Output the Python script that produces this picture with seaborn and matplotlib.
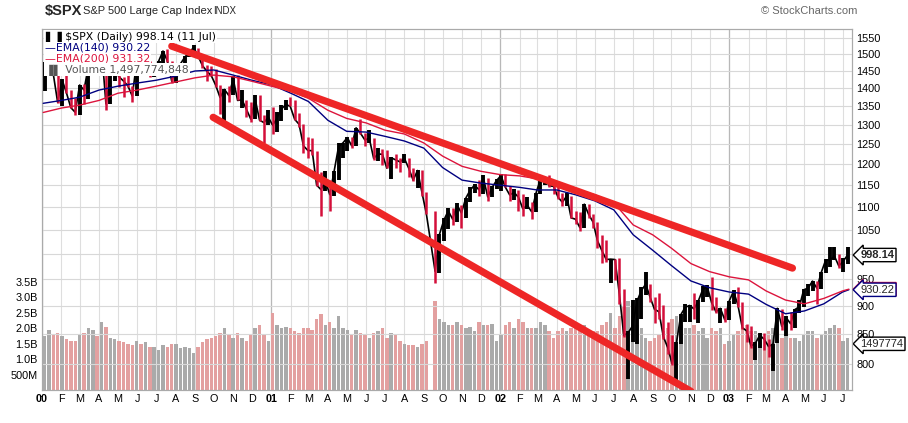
import numpy as np
import pandas as pd
import matplotlib
matplotlib.use("Agg")
import matplotlib.pyplot as plt
import matplotlib.ticker as mticker
import seaborn as sns

sns.set_style("white")
plt.rcParams['font.family'] = ['DejaVu Sans']

# ---------------- data (weekly) ----------------
close_2000 = [1441.5,1465.2,1441.4,1360.2, 1424.4,1387.1,1346.1,1333.4, 1409.2,1395.1,1464.5,1527.5,1498.6,
              1516.4,1356.6,1434.5,1452.4, 1432.6,1420.9,1407.0,1378.0, 1477.3,1457.0,1464.5,1441.5,1454.6,
              1478.9,1510.0,1480.2,1419.9, 1462.9,1471.8,1491.7,1506.5, 1520.8,1494.5,1465.8,1449.1,1436.5,
              1409.0,1374.2,1396.9,1379.6, 1426.7,1366.0,1367.7,1341.8, 1315.2,1369.9,1312.2,1305.9,1320.3]
high_2000 = [1478,1473,1466,1442, 1428,1441,1395,1372, 1410,1413,1465,1553,1528,
             1527,1518,1435,1482, 1481,1433,1467,1407, 1478,1478,1480,1480,1457,
             1481,1511,1517,1481, 1463,1475,1496,1508, 1530,1520,1496,1467,1464,
             1455,1409,1398,1406, 1434,1439,1396,1367, 1362,1380,1380,1325,1340]
low_2000 = [1392,1438,1438,1360, 1350,1387,1346,1325, 1325,1356,1370,1454,1490,
            1486,1339,1356,1420, 1405,1375,1404,1362, 1378,1452,1445,1432,1433,
            1438,1469,1476,1416, 1414,1450,1470,1491, 1502,1490,1460,1421,1434,
            1404,1329,1306,1361, 1380,1366,1346,1322, 1308,1315,1310,1254,1300]

close_2001 = [1298.4,1318.6,1342.5,1355.0, 1349.5,1314.8,1301.5,1245.9, 1234.2,1233.4,1150.5,1139.8,1160.3,
              1128.4,1183.5,1243.0,1253.1, 1266.6,1245.7,1292.0,1277.9, 1260.7,1265.0,1214.4,1225.4,1224.4,
              1190.6,1215.7,1210.9,1205.8, 1214.4,1190.2,1162.0,1184.9,1133.6, 1085.8,965.8,1040.9,
              1071.4,1091.7,1073.5,1104.6, 1087.2,1120.3,1138.7,1150.3,1139.5, 1167.1,1123.1,1144.9,1161.0]
high_2001 = [1347,1333,1354,1367, 1376,1367,1332,1302, 1269,1265,1233,1182,1183,
             1162,1184,1253,1254, 1268,1268,1292,1316, 1278,1287,1265,1240,1237,
             1236,1219,1225,1215, 1226,1215,1192,1185,1185, 1135,1092,1041,
             1075,1097,1099,1110, 1104,1121,1146,1152,1163, 1173,1168,1148,1164]
low_2001 = [1276,1280,1309,1340, 1350,1313,1295,1228, 1216,1224,1148,1081,1136,
            1091,1126,1163,1216, 1233,1239,1245,1275, 1246,1254,1211,1208,1198,
            1190,1165,1192,1182, 1204,1169,1160,1144,1126, 1085,944,962,
            1026,1053,1061,1067, 1054,1075,1111,1133,1125, 1130,1114,1124,1141]

close_2002 = [1172.5,1145.6,1127.6,1133.3, 1122.2,1096.2,1104.2,1089.8, 1131.8,1164.3,1166.2,1148.7,1147.4,
              1122.7,1111.0,1125.2,1076.3, 1073.4,1055.0,1106.6,1083.8,1067.1, 1027.5,1007.3,989.1,989.8,
              989.0,921.4,847.8,852.8, 864.2,908.6,928.8,940.9,916.1, 893.9,889.8,846.0,827.4,
              800.6,835.3,884.4,897.7, 901.0,894.7,909.8,930.6,936.3, 906.6,889.5,895.8,875.4]
high_2002 = [1176,1176,1148,1142, 1139,1130,1124,1111, 1132,1173,1169,1174,1154,
             1157,1132,1131,1125, 1092,1089,1107,1107,1085, 1067,1039,1030,991,
             991,993,932,856, 911,915,935,965,942, 917,925,902,871,
             849,836,885,904, 901,925,911,937,940, 954,916,897,896]
low_2002 = [1136,1145,1114,1117, 1091,1081,1096,1074, 1089,1130,1151,1146,1129,
            1119,1102,1102,1076, 1063,1049,1055,1077,1055, 1012,982,985,944,
            948,904,845,776, 837,833,876,921,908, 870,877,841,817,
            798,769,834,872, 871,876,869,908,916, 893,887,870,871]

close_2003 = [908.6,927.6,901.8,861.4,855.7, 829.7,834.9,848.2,841.2, 828.9,833.3,895.8,863.5,
              878.9,868.3,893.6,898.8, 930.1,933.4,946.7,933.2,963.6, 987.8,988.6,995.7,976.2,
              985.7,998.14]
high_2003 = [910,930,935,907,868, 864,837,852,852, 842,834,896,895,
             882,889,894,912, 931,941,947,947,965, 991,1015,1015,1000, 993,1015]
low_2003 = [874,904,899,859,837, 826,806,827,823, 812,789,835,857,
            847,858,861,888, 898,918,927,904,931, 962,975,988,972, 965,980]

# weekly volume (typical daily bar height), billions
vol_2000 = [1.75,1.95,1.8,1.85, 1.75,1.65,1.6,1.6, 1.8,1.85,2.0,1.95,1.75, 2.2,2.05,1.7,1.65,
            1.6,1.55,1.5,1.45, 1.6,1.5,1.55,1.4,1.4, 1.3,1.45,1.4,1.5, 1.5,1.35,1.4,1.35,
            1.2,1.4,1.55,1.65,1.7, 1.75,1.85,2.0,1.8, 1.7,1.85,1.7,1.6, 1.8,2.0,2.1,1.8,1.6]
vol_2001 = [2.5,2.1,2.0,2.05, 2.0,1.9,1.85,2.0, 2.0,1.95,2.3,2.45,2.1, 2.2,2.0,2.4,2.0,
            1.95,1.8,1.95,1.85, 1.8,1.7,1.85,1.9,2.0, 1.7,1.85,1.8,1.6, 1.5,1.45,1.45,1.4,1.5,
            1.6,2.9,2.3, 2.2,2.1,2.1,2.2, 2.1,2.0,2.05,1.9,2.2, 2.1,2.1,2.15,1.6]
vol_2002 = [1.8,2.1,2.2,2.0, 2.3,2.2,2.0,2.0, 2.0,2.2,2.1,1.9,1.7, 1.9,2.0,1.9,2.0,
            2.0,2.0,2.1,1.8,1.9, 1.9,2.1,2.2,2.5, 2.0,2.4,2.7,2.9, 2.4,2.1,2.0,1.7,1.6,
            1.7,1.8,1.9,2.0, 2.3,2.4,2.1,2.0, 2.0,2.1,1.9,2.0,1.7, 2.0,1.9,2.0,1.5]
vol_2003 = [1.6,1.8,1.9,2.0,2.1, 1.9,1.9,1.7,1.7, 1.9,2.0,2.1,1.7, 1.8,1.7,1.7,1.6,
            1.8,1.9,1.9,1.7,1.8, 1.9,2.0,2.1,2.0, 1.6,1.7]

# EMA values read at month starts (plus the last day)
ema_dates = list(pd.date_range("2000-01-01", "2003-07-01", freq="MS")) + [pd.Timestamp("2003-07-11")]
ema_dates[0] = pd.Timestamp("2000-01-03")
ema140 = [1358,1366,1375,1395,1406,1415,1423,1435,1450,1453,1438,1423,
          1410,1386,1363,1312,1283,1281,1270,1258,1240,1192,1162,1155,
          1150,1145,1139,1139,1128,1114,1094,1040,1008,977,947,934,
          926,922,903,886,891,904,926,930.22]
ema200 = [1333,1345,1353,1366,1386,1395,1406,1418,1430,1438,1433,1420,
          1406,1392,1372,1339,1317,1305,1286,1276,1253,1220,1195,1183,
          1175,1172,1165,1155,1139,1128,1110,1061,1040,1012,981,965,
          955,949,928,911,904,914,928,931.32]

# hand-drawn trend lines (date, price)
trend_upper_dates = ["2000-07-26", "2003-04-12"]
trend_upper_prices = [1525, 972]
trend_lower_dates = ["2000-09-30", "2002-11-01"]
trend_lower_prices = [1320, 757]

price_ticks = [800, 850, 900, 950, 1000, 1050, 1100, 1150, 1200, 1250, 1300, 1350, 1400, 1450, 1500, 1550]
vol_ticks = [0.5e9, 1.0e9, 1.5e9, 2.0e9, 2.5e9, 3.0e9, 3.5e9]
vol_tick_labels = ["500M", "1.0B", "1.5B", "2.0B", "2.5B", "3.0B", "3.5B"]

# ---------------- assemble ----------------
weeks = pd.date_range("2000-01-07", "2003-07-11", freq="W-FRI")
weeks = weeks[weeks != pd.Timestamp("2001-09-14")]
df = pd.DataFrame({
    "date": weeks - pd.Timedelta(days=2),
    "close": close_2000 + close_2001 + close_2002 + close_2003,
    "high": high_2000 + high_2001 + high_2002 + high_2003,
    "low": low_2000 + low_2001 + low_2002 + low_2003,
    "vol": np.array(vol_2000 + vol_2001 + vol_2002 + vol_2003) * 1e9,
})
df["down"] = df["close"].diff().fillna(1) < 0
ema = pd.DataFrame({"date": ema_dates, "ema140": ema140, "ema200": ema200})

RED = "#d40f3a"
fig = plt.figure(figsize=(9.08, 4.23), dpi=100)
axv = fig.add_axes([42/908, 33/423, 810/908, 361/423])
axp = axv.twinx()
axp.patch.set_visible(False)

# volume
vcol = np.where(df["down"], "#e3a0a0", "#aaaaaa")
axv.bar(df["date"], df["vol"], width=5.5, color=vcol, linewidth=0, zorder=2)
axv.set_ylim(0, 11.7e9)
axv.set_yticks(vol_ticks)
axv.set_yticklabels(vol_tick_labels)
axv.yaxis.tick_left()

# x axis
xmin, xmax = pd.Timestamp("2000-01-01"), pd.Timestamp("2003-07-16")
axv.set_xlim(xmin, xmax)
month_starts = pd.date_range("2000-01-01", "2003-07-01", freq="MS")
labels = [("%02d" % (d.year % 100)) if d.month == 1 else d.strftime("%b")[0] for d in month_starts]
axv.set_xticks(month_starts)
axv.set_xticklabels(labels)
for d, t in zip(month_starts, axv.get_xticklabels()):
    if d.month == 1:
        t.set_fontweight("bold")
axv.grid(axis="x", color="#dedede", lw=0.8, zorder=0)
axv.set_axisbelow(True)
for d in month_starts[month_starts.month == 1]:
    axv.axvline(d, color="#b8b8b8", lw=0.9, zorder=1)

# price
axp.set_yscale("log")
axp.set_ylim(759, 1579)
axp.yaxis.set_minor_locator(mticker.NullLocator())
axp.set_yticks(price_ticks)
axp.set_yticklabels(["" if p == 1000 else str(p) for p in price_ticks])
axp.grid(axis="y", color="#d8d8d8", lw=0.8)

up = df[~df["down"]]
dn = df[df["down"]]
sns.lineplot(data=df, x="date", y="close", ax=axp, color="black", lw=1.2, zorder=3)
axp.vlines(up["date"], up["low"], up["high"], colors="black", lw=2.8, zorder=3)
axp.vlines(dn["date"], dn["low"], dn["high"], colors=RED, lw=1.8, zorder=3)
sns.lineplot(data=ema, x="date", y="ema140", ax=axp, color="#000080", lw=1.0, zorder=4)
sns.lineplot(data=ema, x="date", y="ema200", ax=axp, color="#dc143c", lw=1.0, zorder=4)
axp.plot(pd.to_datetime(trend_upper_dates), trend_upper_prices, color="#ee2626", lw=5.2,
         solid_capstyle="round", zorder=5)
axp.plot(pd.to_datetime(trend_lower_dates), trend_lower_prices, color="#ee2626", lw=5.2,
         solid_capstyle="round", zorder=5)
axp.set_xlim(xmin, xmax)
axp.set_ylabel("")
axv.set_ylabel("")
axv.set_xlabel("")
axp.set_xlabel("")

for ax in (axv, axp):
    for s in ax.spines.values():
        s.set_color("#aaaaaa")
        s.set_linewidth(0.8)
    ax.tick_params(length=0, labelsize=7.8, pad=3, colors="black")
for t in axv.get_xticklabels() + axv.get_yticklabels() + axp.get_yticklabels():
    t.set_family("Liberation Sans")

# legend rows with white background
legend_rows = [("\u258c\u2590 $SPX (Daily) 998.14 (11 Jul)", "black"),
               ("\u2014EMA(140) 930.22", "#000080"),
               ("\u2014EMA(200) 931.32", "#dc143c"),
               ("\u2590\u258c Volume 1,497,774,848", "#555555")]
for i, (txt, c) in enumerate(legend_rows):
    axp.text(0.004, 0.978 - i*0.0305, txt, transform=axp.transAxes, fontsize=7.8, color=c,
             va="center", ha="left", zorder=10,
             bbox=dict(boxstyle="square,pad=0.08", fc="white", ec="none"))

# right side value tags
def tag(ax, yval, text, ec, bold=False):
    ax.annotate(text, xy=(1.0, yval), xycoords=ax.get_yaxis_transform(), xytext=(6, 0),
                textcoords="offset points", ha="left", va="center", fontsize=8,
                fontweight="bold" if bold else "normal", family="Liberation Sans",
                bbox=dict(boxstyle="larrow,pad=0.15", fc="white", ec=ec, lw=1.0),
                annotation_clip=False, zorder=20)

tag(axp, 931.32, "931.32", "#dc143c")
tag(axp, 930.22, "930.22", "#000080")
tag(axp, 998.14, "998.14", "black", bold=True)
tag(axv, 1497774848, "1497774", "black")

# titles
fig.text(45/908, 1 - 11/423, "$SPX", fontsize=10.5, fontweight="bold", family="Liberation Sans", va="center")
fig.text(83/908, 1 - 11/423, "S&P 500 Large Cap Index", fontsize=8, family="Liberation Sans", va="center")
fig.text(213/908, 1 - 11/423, "INDX", fontsize=7, family="Liberation Sans", va="center")
fig.text(857/908, 1 - 11/423, "\u00a9 StockCharts.com", fontsize=8, color="#666666",
         family="Liberation Sans", va="center", ha="right")

fig.savefig("out.png", dpi=100)
